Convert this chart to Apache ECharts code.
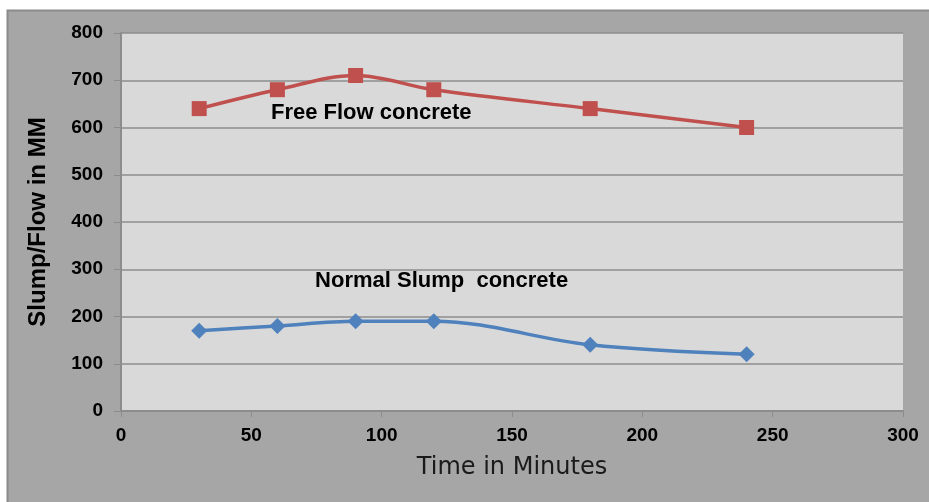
<!DOCTYPE html>
<html><head><meta charset="utf-8">
<script src="https://cdn.jsdelivr.net/npm/echarts@6/dist/echarts.min.js"></script>
<style>html,body{margin:0;padding:0;background:#fff}#c{width:929px;height:502px}</style>
</head><body><div id="c"></div>
<script>
const times = [30, 60, 90, 120, 180, 240];
const freeFlow = [640, 680, 710, 680, 640, 600];
const normalSlump = [170, 180, 190, 190, 140, 120];
const xTicks = [0, 50, 100, 150, 200, 250, 300];
const yTicks = [0, 100, 200, 300, 400, 500, 600, 700, 800];
const annotFree = {name: 'Free Flow concrete', x: 96, y: 631};
const annotNormal = {name: 'Normal Slump  concrete', x: 123, y: 275};

const chart = echarts.init(document.getElementById('c'));
const lbl = {fontFamily: 'Liberation Sans, Arial', fontWeight: 'bold', fontSize: 19, color: '#000'};
chart.setOption({
  backgroundColor: '#fff',
  animation: false,
  graphic: [{type: 'rect', z: -10, shape: {x: 7.5, y: 10.5, width: 930, height: 500},
    style: {fill: '#a6a6a6', stroke: '#8a8a8a', lineWidth: 2}}],
  grid: {left: 121, right: 26, top: 33, bottom: 91, show: true, backgroundColor: '#d9d9d9', borderWidth: 0},
  xAxis: {type: 'value', min: xTicks[0], max: xTicks[xTicks.length - 1], interval: 50,
    name: 'Time in Minutes', nameLocation: 'middle', nameGap: 45,
    nameTextStyle: {fontFamily: 'DejaVu Sans', fontSize: 24, color: '#1a1a1a'},
    axisLine: {lineStyle: {color: '#8c8c8c', width: 2}}, axisTick: {show: true, length: 6, lineStyle: {color: '#8c8c8c'}},
    axisLabel: Object.assign({margin: 15}, lbl), splitLine: {show: false}},
  yAxis: {type: 'value', min: yTicks[0], max: yTicks[yTicks.length - 1], interval: 100,
    name: 'Slump/Flow in MM', nameLocation: 'middle', nameGap: 71,
    nameTextStyle: {fontFamily: 'Liberation Sans, Arial', fontWeight: 'bold', fontSize: 24, color: '#000'},
    axisLine: {show: true, lineStyle: {color: '#8c8c8c', width: 2}}, axisTick: {show: true, length: 7, lineStyle: {color: '#8c8c8c'}},
    axisLabel: Object.assign({margin: 18}, lbl),
    splitLine: {lineStyle: {color: '#8c8c8c', width: 1.5}}},
  series: [
    {type: 'line', data: times.map((t, i) => [t, freeFlow[i]]), smooth: 0.35,
      symbol: 'rect', symbolSize: 15, itemStyle: {color: '#c0504d'}, lineStyle: {color: '#c0504d', width: 3.5},
      markPoint: {symbol: 'circle', symbolSize: 0, data: [{coord: [annotFree.x, annotFree.y], value: annotFree.name}],
        label: Object.assign({show: true, formatter: annotFree.name}, lbl, {fontSize: 22})}},
    {type: 'line', data: times.map((t, i) => [t, normalSlump[i]]), smooth: 0.35,
      symbol: 'diamond', symbolSize: 16, itemStyle: {color: '#4f81bd'}, lineStyle: {color: '#4f81bd', width: 3.5},
      markPoint: {symbol: 'circle', symbolSize: 0, data: [{coord: [annotNormal.x, annotNormal.y], value: annotNormal.name}],
        label: Object.assign({show: true, formatter: annotNormal.name}, lbl, {fontSize: 22})}}
  ]
});
</script></body></html>
